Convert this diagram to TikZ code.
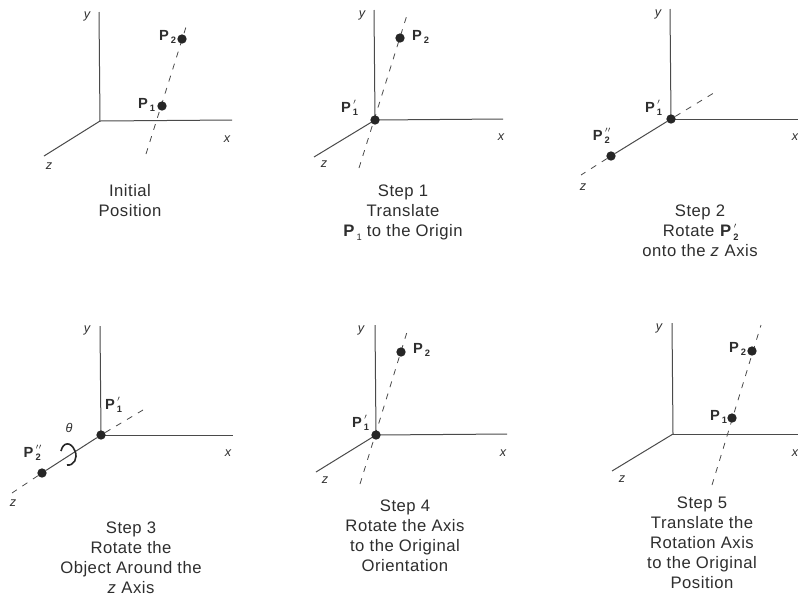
\documentclass[tikz,border=0pt]{standalone}
\usepackage{fontspec}
\setmainfont{Liberation Sans}[LetterSpace=3]
\definecolor{ink}{HTML}{2E2E2E}
\definecolor{axisc}{HTML}{4A4A4A}
\newcommand{\PP}[2]{\textbf{P}\rlap{\raisebox{-0.4ex}{\fontsize{7pt}{8pt}\selectfont\textbf{\,#1}}}\raisebox{0.55ex}{\fontsize{8pt}{8pt}\selectfont\textbf{\,#2}}}
\tikzset{
  axisline/.style={draw=axisc,line width=0.75pt},
  dashline/.style={draw=axisc,line width=0.6pt,dash pattern=on 4.5pt off 5pt},
  dotn/.style={circle,fill=black!85,inner sep=0pt,minimum size=7pt},
  lab/.style={inner sep=0pt,text=ink,font=\fontsize{9.5pt}{11pt}\selectfont\itshape},
  plab/.style={inner sep=0pt,text=ink,font=\fontsize{11pt}{12pt}\selectfont},
  captext/.style={inner sep=0pt,text=ink,align=center,font=\fontsize{12.5pt}{15pt}\selectfont,anchor=north}
}
\begin{document}
\begin{tikzpicture}[x=0.75pt,y=-0.75pt]
\useasboundingbox[fill=white] (0,0) rectangle (798,597);
% Panel 1
\coordinate (a0) at (100,121);
\node[lab] (ay) at (87,16) {y};
\coordinate (ayt) at (99,12);
\coordinate (axe) at (232,120);
\coordinate (aze) at (44,156);
\node[lab] (ax) at (227,139) {x};
\node[lab] (az) at (49,166) {z};
\coordinate (ad1) at (146,154);
\coordinate (ad2) at (186,27);
\draw[axisline] (a0) -- (ayt);
\draw[axisline] (a0) -- (axe);
\draw[axisline] (a0) -- (aze);
\draw[dashline] (ad1) -- (ad2);
\node[dotn] (ap1) at (162,106) {};
\node[dotn] (ap2) at (182,39) {};
\node[plab] (apl1) at (144,105) {\PP{1}{}};
\node[plab] (apl2) at (165,37) {\PP{2}{}};
\node[captext] (acap) at (130,184) {Initial\\Position};
% Panel 2
\coordinate (b0) at (375,120);
\coordinate (byt) at (374,10);
\coordinate (bxe) at (503,119);
\coordinate (bze) at (314,157);
\coordinate (bd1) at (359,168);
\coordinate (bd2) at (407,15);
\draw[axisline] (b0) -- (byt);
\draw[axisline] (b0) -- (bxe);
\draw[axisline] (b0) -- (bze);
\draw[dashline] (bd1) -- (bd2);
\node[dotn] (bp1) at (375,120) {};
\node[dotn] (bp2) at (400,38) {};
\node[lab] (by) at (362,15) {y};
\node[lab] (bx) at (501,137) {x};
\node[lab] (bz) at (324,164) {z};
\node[plab] (bpl1) at (349,108) {\PP{1}{$'$}};
\node[plab] (bpl2) at (418,37) {\PP{2}{}};
\node[captext] (bcap) at (403,185) {Step 1\\Translate\\\textbf{P}\raisebox{-0.4ex}{\fontsize{7pt}{8pt}\selectfont\,1} to the Origin};
% Panel 3
\coordinate (c0) at (671,119);
\coordinate (cyt) at (670,9);
\coordinate (cxe) at (798,119);
\coordinate (cze) at (581,175);
\coordinate (cd2) at (717,91);
\draw[axisline] (c0) -- (cyt);
\draw[axisline] (c0) -- (cxe);
\node[dotn] (cp1) at (671,119) {};
\node[dotn] (cp2) at (611,156) {};
\draw[axisline] (cp1) -- (cp2);
\draw[dashline] (cp2) -- (cze);
\draw[dashline] (cp1) -- (cd2);
\node[lab] (cy) at (658,14) {y};
\node[lab] (cx) at (795,137) {x};
\node[lab] (cz) at (583,187) {z};
\node[plab] (cpl1) at (653,108) {\PP{1}{$'$}};
\node[plab] (cpl2) at (602,136) {\PP{2}{$''$}};
\node[captext] (ccap) at (700,205) {Step 2\\Rotate \PP{2}{$'$}\\onto the \textit{z} Axis};
% Panel 4
\coordinate (d0) at (101,435);
\coordinate (dyt) at (100,326);
\coordinate (dxe) at (233,435);
\coordinate (dze) at (12,493);
\coordinate (dd2) at (148,407);
\draw[axisline] (d0) -- (dyt);
\draw[axisline] (d0) -- (dxe);
\node[dotn] (dp1) at (101,435) {};
\node[dotn] (dp2) at (42,473) {};
\draw[axisline] (dp1) -- (dp2);
\draw[dashline] (dp2) -- (dze);
\draw[dashline] (dp1) -- (dd2);
\draw[draw=black!85,line width=1.2pt] (61,451) .. controls (63,442) and (71,441) .. (75,451) .. controls (78,458) and (74,466) .. (67,465);
\node[lab] (dy) at (87,330) {y};
\node[lab] (dx) at (228,453) {x};
\node[lab] (dz) at (13,503) {z};
\node[lab] (dth) at (69,428) {θ};
\node[plab] (dpl1) at (113,405) {\PP{1}{$'$}};
\node[plab] (dpl2) at (33,453) {\PP{2}{$''$}};
\node[captext] (dcap) at (131,522) {Step 3\\Rotate the\\Object Around the\\\textit{z} Axis};
% Panel 5
\coordinate (e0) at (376,435);
\coordinate (eyt) at (375,325);
\coordinate (exe) at (507,434);
\coordinate (eze) at (316,472);
\coordinate (ed1) at (360,484);
\coordinate (ed2) at (407,332);
\draw[axisline] (e0) -- (eyt);
\draw[axisline] (e0) -- (exe);
\draw[axisline] (e0) -- (eze);
\draw[dashline] (ed1) -- (ed2);
\node[dotn] (ep1) at (376,435) {};
\node[dotn] (ep2) at (401,352) {};
\node[lab] (ey) at (361,330) {y};
\node[lab] (ex) at (503,453) {x};
\node[lab] (ez) at (325,480) {z};
\node[plab] (epl1) at (360,423) {\PP{1}{$'$}};
\node[plab] (epl2) at (419,350) {\PP{2}{}};
\node[captext] (ecap) at (405,500) {Step 4\\Rotate the Axis\\to the Original\\Orientation};
% Panel 6
\coordinate (f0) at (673,434);
\coordinate (fyt) at (672,323);
\coordinate (fxe) at (798,434);
\coordinate (fze) at (612,471);
\coordinate (fd1) at (712,485);
\coordinate (fd2) at (761,325);
\draw[axisline] (f0) -- (fyt);
\draw[axisline] (f0) -- (fxe);
\draw[axisline] (f0) -- (fze);
\draw[dashline] (fd1) -- (fd2);
\node[dotn] (fp1) at (732,418) {};
\node[dotn] (fp2) at (752,351) {};
\node[lab] (fy) at (659,328) {y};
\node[lab] (fx) at (795,453) {x};
\node[lab] (fz) at (622,479) {z};
\node[plab] (fpl1) at (716,417) {\PP{1}{}};
\node[plab] (fpl2) at (735,349) {\PP{2}{}};
\node[captext] (fcap) at (702,497) {Step 5\\Translate the\\Rotation Axis\\to the Original\\Position};
\end{tikzpicture}
\end{document}
